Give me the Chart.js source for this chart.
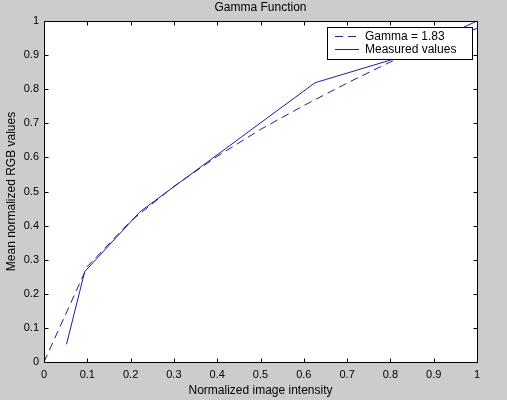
<!DOCTYPE html>
<html><head><meta charset="utf-8">
<script src="https://cdn.jsdelivr.net/npm/chart.js@4/dist/chart.umd.min.js"></script>
<style>html,body{margin:0;padding:0;background:#cccccc;overflow:hidden;}</style>
</head><body>
<canvas id="c" width="507" height="400" style="width:507px;height:400px;display:block"></canvas>
<script>
// ---- data ----
const chartTitle = 'Gamma Function';
const xAxisLabel = 'Normalized image intensity';
const yAxisLabel = 'Mean normalized RGB values';
const seriesNames = ['Gamma = 1.83', 'Measured values'];
const gammaX = [0, 0.1, 0.2, 0.3, 0.4, 0.5, 0.6, 0.7, 0.8, 0.9, 1.0];
const gammaY = [0, 0.28, 0.413, 0.515, 0.603, 0.682, 0.752, 0.818, 0.88, 0.935, 0.978];
const measuredX = [0.052, 0.094, 0.222, 0.626, 0.82, 1.0];
const measuredY = [0.052, 0.265, 0.441, 0.819, 0.893, 1.0];
const xTickValues = [0, 0.1, 0.2, 0.3, 0.4, 0.5, 0.6, 0.7, 0.8, 0.9, 1];
const xTickLabels = ['0', '0.1', '0.2', '0.3', '0.4', '0.5', '0.6', '0.7', '0.8', '0.9', '1'];
const yTickValues = [0, 0.1, 0.2, 0.3, 0.4, 0.5, 0.6, 0.7, 0.8, 0.9, 1];
const yTickLabels = ['0', '0.1', '0.2', '0.3', '0.4', '0.5', '0.6', '0.7', '0.8', '0.9', '1'];

const FONT = '"Liberation Sans", Arial, Helvetica, sans-serif';
const LINE_COLOR = '#1f1f99';
const DASH = [8, 5];

const toPoints = (xs, ys) => xs.map((x, i) => ({x: x, y: ys[i]}));

const framePlugin = {
  id: 'frame',
  beforeDraw(chart) {
    const ctx = chart.ctx, a = chart.chartArea;
    ctx.save();
    ctx.fillStyle = '#cccccc';
    ctx.fillRect(0, 0, chart.width, chart.height);
    ctx.fillStyle = '#ffffff';
    ctx.fillRect(a.left, a.top, a.right - a.left, a.bottom - a.top);
    ctx.restore();
  },
  afterDatasetsDraw(chart) {
    const ctx = chart.ctx, a = chart.chartArea;
    const xs = chart.scales.x, ys = chart.scales.y;
    const L = Math.round(a.left) + 0.5, R = Math.round(a.right) + 0.5;
    const T = Math.round(a.top) + 0.5, B = Math.round(a.bottom) + 0.5;
    ctx.save();
    ctx.strokeStyle = '#000000';
    ctx.lineWidth = 1;
    ctx.setLineDash([]);
    ctx.strokeRect(L, T, R - L, B - T);
    const tl = 4;
    ctx.beginPath();
    xTickValues.forEach(v => {
      const px = Math.round(xs.getPixelForValue(v)) + 0.5;
      ctx.moveTo(px, B); ctx.lineTo(px, B - tl);
      ctx.moveTo(px, T); ctx.lineTo(px, T + tl);
    });
    yTickValues.forEach(v => {
      const py = Math.round(ys.getPixelForValue(v)) + 0.5;
      ctx.moveTo(L, py); ctx.lineTo(L + tl, py);
      ctx.moveTo(R, py); ctx.lineTo(R - tl, py);
    });
    ctx.stroke();

    // legend box (drawn over the lines, like the reference)
    const bx = 327, by = 27, bw = 145, bh = 32;
    ctx.fillStyle = '#ffffff';
    ctx.fillRect(bx, by, bw, bh);
    ctx.strokeRect(bx + 0.5, by + 0.5, bw, bh);
    const rows = [by + 9, by + 22];
    chart.data.datasets.forEach((ds, i) => {
      ctx.strokeStyle = ds.borderColor;
      ctx.setLineDash(ds.borderDash || []);
      ctx.beginPath();
      ctx.moveTo(335, rows[i] + 0.5);
      ctx.lineTo(359, rows[i] + 0.5);
      ctx.stroke();
      ctx.setLineDash([]);
      ctx.fillStyle = '#000000';
      ctx.font = '12px ' + FONT;
      ctx.textBaseline = 'middle';
      ctx.textAlign = 'left';
      ctx.fillText(ds.label, 365, rows[i] + 1);
    });

    // title
    ctx.fillStyle = '#000000';
    ctx.font = '12px ' + FONT;
    ctx.textAlign = 'center';
    ctx.textBaseline = 'middle';
    ctx.fillText(chartTitle, (a.left + a.right) / 2, 8);
    ctx.restore();
  }
};

new Chart(document.getElementById('c'), {
  type: 'scatter',
  data: {
    datasets: [
      {label: seriesNames[0], data: toPoints(gammaX, gammaY), showLine: true,
       borderColor: LINE_COLOR, borderWidth: 1, borderDash: DASH, pointRadius: 0, fill: false, tension: 0},
      {label: seriesNames[1], data: toPoints(measuredX, measuredY), showLine: true,
       borderColor: LINE_COLOR, borderWidth: 1, pointRadius: 0, fill: false, tension: 0}
    ]
  },
  options: {
    responsive: false,
    devicePixelRatio: 1,
    animation: false,
    events: [],
    layout: {padding: {top: 21, right: 30, left: 0, bottom: 0}},
    plugins: {legend: {display: false}, title: {display: false}, tooltip: {enabled: false}},
    scales: {
      x: {
        type: 'linear', min: 0, max: 1,
        afterBuildTicks(s) { s.ticks = xTickValues.map(v => ({value: v})); },
        afterFit(s) { s.height = 38; },
        grid: {display: false, drawTicks: false},
        border: {display: false},
        ticks: {
          autoSkip: false, maxRotation: 0, padding: 6, color: '#000000',
          font: {family: FONT, size: 11},
          callback: (v, i) => xTickLabels[i]
        },
        title: {display: true, text: xAxisLabel, color: '#000000',
                font: {family: FONT, size: 12}, padding: {top: 0, bottom: 2}}
      },
      y: {
        type: 'linear', min: 0, max: 1,
        afterBuildTicks(s) { s.ticks = yTickValues.map(v => ({value: v})); },
        afterFit(s) { s.width = 44; },
        grid: {display: false, drawTicks: false},
        border: {display: false},
        ticks: {
          autoSkip: false, padding: 5, color: '#000000',
          font: {family: FONT, size: 11},
          callback: (v, i) => yTickLabels[i]
        },
        title: {display: true, text: yAxisLabel, color: '#000000',
                font: {family: FONT, size: 12}, padding: {top: 4, bottom: 0}}
      }
    }
  },
  plugins: [framePlugin]
});
</script>
</body></html>
